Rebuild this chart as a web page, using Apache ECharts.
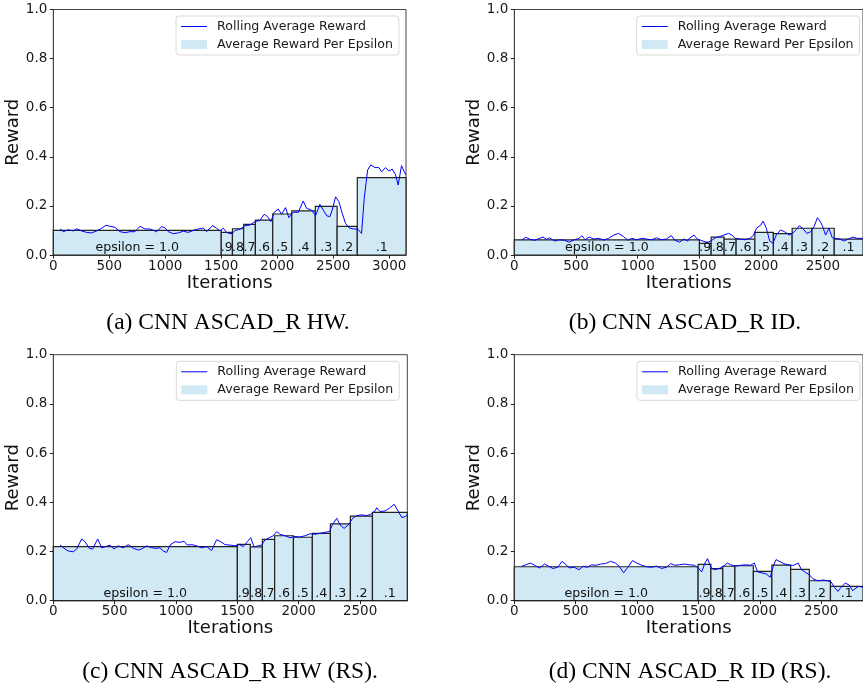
<!DOCTYPE html>
<html><head><meta charset="utf-8">
<script src="https://cdn.jsdelivr.net/npm/echarts@6/dist/echarts.min.js"></script>
<style>html,body{margin:0;padding:0;background:#fff}#c{width:863px;height:689px}</style>
</head><body><div id="c"></div>
<script>
// ---------- data ----------
const epsLabels = ['epsilon = 1.0','.9','.8','.7','.6','.5','.4','.3','.2','.1'];

const xTicksA = [0,500,1000,1500,2000,2500,3000];
const xTicksB = [0,500,1000,1500,2000,2500];
const xTicksC = [0,500,1000,1500,2000,2500];
const xTicksD = [0,500,1000,1500,2000,2500];

const xMaxA = 3150, xMaxB = 2825, xMaxC = 2885, xMaxD = 2840;

const epsEdgesA = [0,1500,1600,1700,1805,1960,2130,2340,2535,2715,3150];
const epsValsA  = [0.100,0.092,0.107,0.125,0.142,0.167,0.180,0.198,0.117,0.315];
const epsEdgesB = [0,1500,1595,1700,1797,1949,2099,2251,2412,2592,2825];
const epsValsB  = [0.062,0.047,0.073,0.065,0.065,0.092,0.087,0.109,0.109,0.065];
const epsEdgesC = [0,1500,1606,1704,1804,1957,2111,2258,2421,2601,2885];
const epsValsC  = [0.220,0.229,0.219,0.249,0.264,0.258,0.274,0.312,0.344,0.359];
const epsEdgesD = [0,1497,1601,1698,1797,1947,2098,2251,2403,2575,2840];
const epsValsD  = [0.138,0.148,0.130,0.140,0.142,0.119,0.145,0.127,0.081,0.058];

const rollA = [[60,.106],[89,.095],[134,.103],[179,.098],[208,.107],[253,.098],[298,.092],[342,.090],[387,.098],[432,.109],[470,.121],[506,.117],[551,.113],[595,.095],[640,.091],[685,.095],[729,.095],[774,.117],[818,.106],[863,.106],[923,.095],[967,.115],[997,.111],[1027,.095],[1071,.087],[1116,.090],[1161,.097],[1205,.092],[1250,.100],[1295,.106],[1339,.110],[1369,.095],[1423,.120],[1458,.109],[1488,.098],[1518,.109],[1548,.092],[1577,.087],[1600,.088],[1622,.100],[1667,.105],[1711,.119],[1756,.122],[1801,.136],[1845,.141],[1884,.166],[1914,.156],[1943,.136],[1973,.174],[2009,.187],[2039,.166],[2074,.193],[2104,.152],[2143,.174],[2188,.174],[2232,.220],[2262,.190],[2307,.183],[2342,.160],[2381,.206],[2411,.183],[2441,.160],[2470,.156],[2491,.183],[2521,.237],[2551,.217],[2580,.170],[2610,.129],[2640,.111],[2679,.106],[2717,.106],[2753,.088],[2777,.231],[2807,.346],[2836,.367],[2872,.356],[2908,.356],[2932,.339],[2967,.356],[2997,.342],[3027,.350],[3057,.326],[3080,.285],[3110,.364],[3134,.339],[3150,.326]];

const rollB = [[59,.061],[94,.072],[126,.064],[166,.060],[206,.068],[232,.073],[259,.064],[286,.070],[326,.057],[366,.062],[406,.060],[446,.052],[486,.062],[526,.068],[547,.079],[574,.062],[606,.073],[645,.065],[685,.068],[725,.061],[765,.068],[805,.081],[845,.088],[885,.075],[920,.060],[952,.068],[992,.062],[1032,.068],[1072,.065],[1112,.062],[1152,.070],[1192,.062],[1232,.065],[1272,.079],[1298,.061],[1338,.052],[1373,.065],[1405,.057],[1417,.068],[1457,.081],[1484,.064],[1510,.060],[1545,.054],[1571,.052],[1603,.061],[1630,.070],[1662,.075],[1696,.081],[1736,.088],[1763,.081],[1790,.068],[1829,.065],[1869,.062],[1909,.068],[1936,.079],[1962,.109],[1997,.122],[2016,.138],[2042,.109],[2069,.057],[2096,.048],[2122,.081],[2157,.102],[2189,.095],[2229,.081],[2269,.095],[2309,.119],[2336,.109],[2370,.088],[2402,.095],[2429,.116],[2456,.152],[2477,.138],[2496,.119],[2522,.081],[2549,.109],[2576,.070],[2602,.068],[2637,.065],[2669,.057],[2709,.065],[2743,.073],[2775,.068],[2825,.068]];

const rollC = [[55,.226],[82,.215],[122,.202],[163,.199],[190,.210],[231,.251],[258,.240],[293,.213],[321,.210],[361,.251],[394,.215],[421,.219],[462,.226],[494,.210],[529,.223],[570,.215],[611,.228],[652,.213],[693,.206],[720,.210],[761,.223],[801,.215],[837,.213],[869,.215],[896,.202],[924,.196],[951,.226],[992,.240],[1032,.237],[1065,.242],[1092,.226],[1128,.228],[1168,.223],[1209,.215],[1250,.220],[1290,.204],[1331,.248],[1364,.240],[1399,.228],[1440,.226],[1481,.223],[1516,.228],[1549,.220],[1581,.240],[1609,.256],[1636,.219],[1671,.223],[1698,.226],[1725,.247],[1761,.256],[1793,.264],[1821,.281],[1848,.270],[1889,.264],[1929,.256],[1970,.261],[2011,.259],[2052,.264],[2093,.272],[2133,.270],[2174,.274],[2215,.278],[2250,.281],[2277,.311],[2310,.335],[2337,.308],[2370,.294],[2405,.308],[2440,.335],[2473,.346],[2514,.349],[2554,.346],[2587,.351],[2622,.365],[2636,.378],[2663,.362],[2704,.365],[2739,.376],[2777,.392],[2813,.362],[2840,.338],[2868,.342],[2885,.349]];

const rollD = [[59,.140],[94,.146],[131,.153],[166,.144],[206,.133],[246,.149],[281,.140],[314,.131],[354,.136],[389,.160],[416,.149],[448,.133],[488,.136],[528,.126],[560,.140],[595,.136],[630,.146],[668,.144],[703,.149],[743,.151],[783,.160],[823,.153],[855,.140],[890,.113],[925,.136],[963,.163],[998,.153],[1038,.144],[1078,.138],[1118,.136],[1159,.141],[1199,.131],[1239,.136],[1274,.151],[1306,.144],[1346,.146],[1386,.149],[1427,.146],[1467,.144],[1499,.133],[1526,.117],[1553,.153],[1574,.171],[1601,.136],[1628,.126],[1668,.131],[1703,.140],[1735,.153],[1762,.146],[1802,.140],[1842,.144],[1882,.146],[1923,.144],[1955,.153],[1982,.117],[2017,.113],[2052,.109],[2084,.095],[2111,.144],[2132,.167],[2165,.158],[2205,.149],[2245,.144],[2277,.144],[2312,.153],[2339,.126],[2366,.117],[2401,.106],[2433,.089],[2473,.081],[2514,.084],[2554,.081],[2581,.076],[2608,.054],[2635,.038],[2661,.054],[2696,.072],[2728,.063],[2755,.041],[2782,.051],[2803,.058],[2840,.055]];

const captions = ['(a) CNN ASCAD_R HW.','(b) CNN ASCAD_R ID.','(c) CNN ASCAD_R HW (RS).','(d) CNN ASCAD_R ID (RS).'];

// ---------- layout / style ----------
const FONT = 'DejaVu Sans';
const BAR_FILL = '#d1e9f5';
const LINE_COLOR = '#0000ff';
const panels = [
  {grid:{left:53.3, top:9.5, width:352.7, height:245.5}, xMax:xMaxA, xTicks:xTicksA, edges:epsEdgesA, vals:epsValsA, roll:rollA, legend:{left:176, top:16}, cap:{x:228, y:323}},
  {grid:{left:514.3, top:9.5, width:353.7, height:245.5}, xMax:xMaxB, xTicks:xTicksB, edges:epsEdgesB, vals:epsValsB, roll:rollB, legend:{left:636.7, top:16}, cap:{x:685, y:323}},
  {grid:{left:53.3, top:354.7, width:354, height:246}, xMax:xMaxC, xTicks:xTicksC, edges:epsEdgesC, vals:epsValsC, roll:rollC, legend:{left:176.3, top:361.3}, cap:{x:230, y:671.7}},
  {grid:{left:514.3, top:354.7, width:353, height:246}, xMax:xMaxD, xTicks:xTicksD, edges:epsEdgesD, vals:epsValsD, roll:rollD, legend:{left:637, top:361.3}, cap:{x:690, y:671.7}}
];

const option = {animation:false, backgroundColor:'#fff', grid:[], xAxis:[], yAxis:[], series:[], legend:[], graphic:[]};

panels.forEach((p, i) => {
  option.grid.push(Object.assign({show:true, borderColor:'#444', borderWidth:1, backgroundColor:'transparent'}, p.grid));
  option.xAxis.push({
    gridIndex:i, type:'value', min:0, max:p.xMax,
    axisLine:{show:true, onZero:false, lineStyle:{color:'#444', width:1}},
    axisTick:{show:true, length:3.5, customValues:p.xTicks, lineStyle:{color:'#222'}},
    axisLabel:{customValues:p.xTicks, margin:4, fontSize:13.5, fontFamily:FONT, color:'#1a1a1a', formatter:v => String(v)},
    splitLine:{show:false},
    name:'Iterations', nameLocation:'middle', nameGap:19,
    nameTextStyle:{fontSize:18, fontFamily:FONT, color:'#111'}
  });
  option.yAxis.push({
    gridIndex:i, type:'value', min:0, max:1, interval:0.2,
    axisLine:{show:true, lineStyle:{color:'#444', width:1}},
    axisTick:{show:true, length:3.5, lineStyle:{color:'#222'}},
    axisLabel:{margin:6, fontSize:13.5, fontFamily:FONT, color:'#1a1a1a', formatter:v => v.toFixed(1)},
    splitLine:{show:false},
    name:'Reward', nameLocation:'middle', nameGap:30, nameRotate:90,
    nameTextStyle:{fontSize:18, fontFamily:FONT, color:'#111'}
  });
  const barData = p.vals.map((v, k) => [p.edges[k], p.edges[k+1], v]);
  option.series.push({
    type:'custom', name:'Average Reward Per Epsilon', xAxisIndex:i, yAxisIndex:i, z:2,
    itemStyle:{color:BAR_FILL},
    encode:{x:[0,1], y:2},
    data:barData,
    renderItem:(params, api) => {
      const x0 = api.value(0), x1 = api.value(1), v = api.value(2);
      const p0 = api.coord([x0, v]);
      const p1 = api.coord([x1, 0]);
      return {type:'group', children:[
        {type:'rect', shape:{x:p0[0], y:p0[1], width:p1[0]-p0[0], height:p1[1]-p0[1]},
         style:{fill:BAR_FILL, stroke:'#222', lineWidth:1.2}},
        {type:'text', z2:10, style:{text:epsLabels[params.dataIndex], x:(p0[0]+p1[0])/2, y:p1[1]-7,
         align:'center', verticalAlign:'middle', fontSize:12.6, fontFamily:FONT, fill:'#111'}}
      ]};
    }
  });
  option.series.push({
    type:'line', name:'Rolling Average Reward', xAxisIndex:i, yAxisIndex:i, z:3,
    symbol:'none', showSymbol:false, data:p.roll,
    lineStyle:{color:LINE_COLOR, width:1}, itemStyle:{color:LINE_COLOR}
  });
  option.legend.push({
    orient:'vertical', left:p.legend.left, top:p.legend.top, padding:[4,6,4,5],
    itemWidth:26, itemHeight:9, itemGap:5, selectedMode:false,
    backgroundColor:'rgba(255,255,255,0.85)', borderColor:'#d9d9d9', borderWidth:1, borderRadius:3,
    textStyle:{fontSize:12.6, fontFamily:FONT, color:'#1a1a1a', padding:[0,0,0,5]},
    data:[{name:'Rolling Average Reward', icon:'path://M0,0H26V1H0Z', itemStyle:{color:LINE_COLOR, borderWidth:0}},
          {name:'Average Reward Per Epsilon', icon:'rect', itemStyle:{color:BAR_FILL, borderWidth:0}}]
  });
  option.graphic.push({type:'text', x:p.cap.x, y:p.cap.y,
    style:{text:captions[i], align:'center', verticalAlign:'middle', fontSize:23.5, fontFamily:'Liberation Serif', fill:'#000'}});
});

const chart = echarts.init(document.getElementById('c'), null, {renderer:'canvas'});
chart.setOption(option);
</script>
</body></html>
